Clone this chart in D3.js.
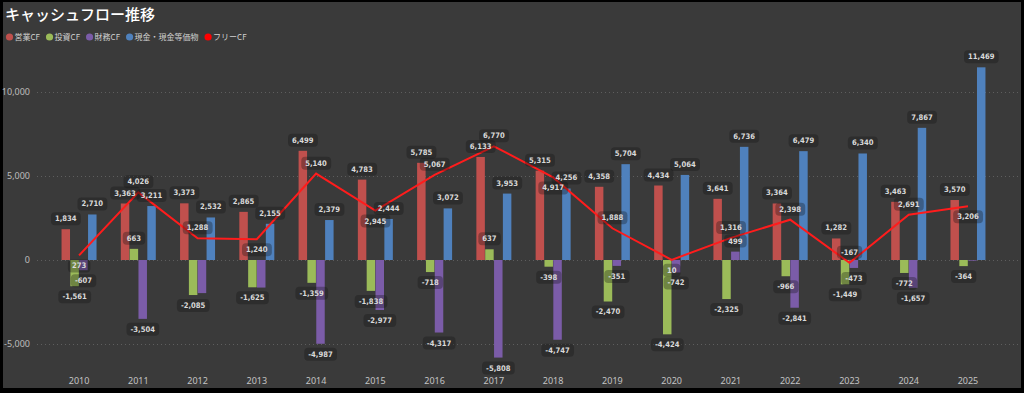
<!DOCTYPE html>
<html>
<head>
<meta charset="utf-8">
<script src="https://cdn.jsdelivr.net/npm/d3@7/dist/d3.min.js"></script>
<style>
  html, body { margin: 0; padding: 0; background: #000; }
  svg { display: block; }
</style>
</head>
<body>
<div id="chart"></div>
<script>
// Data (単位: 百万円)
var years = ["2010", "2011", "2012", "2013", "2014", "2015", "2016", "2017",
             "2018", "2019", "2020", "2021", "2022", "2023", "2024", "2025"];
var eigyoCF = [1834, 3363, 3373, 2865, 6499, 4783, 5785, 6133, 5315, 4358, 4434, 3641, 3364, 1282, 3463, 3570];
var toshiCF = [-1561, 663, -2085, -1625, -1359, -1838, -718, 637, -398, -2470, -4424, -2325, -966, -1449, -772, -364];
var zaimuCF = [-607, -3504, -1970, -1640, -4987, -2977, -4317, -5808, -4747, -351, -742, 499, -2841, -473, -1657, -40];
var genkin = [2710, 3211, 2532, 2155, 2379, 2444, 3072, 3953, 4256, 5704, 5064, 6736, 6479, 6340, 7867, 11469];
var freeCF = [273, 4026, 1288, 1240, 5140, 2945, 5067, 6770, 4917, 1888, 10, 1316, 2398, -167, 2691, 3206];
var yTicks = [-5000, 0, 5000, 10000];
var seriesNames = ["営業CF", "投資CF", "財務CF", "現金・現金等価物"];
var lineName = "フリーCF";

var chart = (function (d3) {
  "use strict";

  var W = 1024,
      H = 393,
      colors = ["#c0504d", "#9bbb59", "#7b5ca8", "#4f81bd"],
      lineColor = "#ff1c1c",
      fontCjk = "'Noto Sans CJK JP', 'Noto Sans', sans-serif",
      fontNum = "'DejaVu Sans Condensed', 'DejaVu Sans', sans-serif",
      // which side of the line point the FCF label sits on
      fcfSide = [1, -1, -1, 1, -1, 1, -1, -1, 1, -1, 1, -1, -1, -1, -1, 1],
      fmt = d3.formatLocale({ decimal: ".", thousands: ",", grouping: [3], currency: ["", ""], minus: "-" }).format(",");

  var private_methods = {
    label: function (g, x, y, txt) {
      var grp = g.append("g"),
          t = null,
          bb = null;
      t = grp.append("text")
        .attr("x", x).attr("y", y)
        .attr("text-anchor", "middle")
        .attr("dominant-baseline", "central")
        .attr("font-family", fontNum)
        .attr("font-weight", "bold")
        .attr("font-size", 7.6)
        .attr("fill", "#dadada")
        .text(txt);
      bb = t.node().getBBox();
      grp.insert("rect", "text")
        .attr("x", bb.x - 4).attr("y", y - 6.5)
        .attr("width", bb.width + 8).attr("height", 13)
        .attr("rx", 4)
        .attr("fill", "rgba(20,20,20,0.32)");
      return { g: grp, x0: bb.x, x1: bb.x + bb.width, y0: y - 5, y1: y + 5 };
    },
    hits: function (a, b) {
      return a.x0 < b.x1 && b.x0 < a.x1 && a.y0 < b.y1 && b.y0 < a.y1;
    }
  };

  return {
    draw: function (sDiv) {
      var svg, x, xs, y, g, series, placed = [], lineData, i;

      svg = d3.select(sDiv).append("svg")
        .attr("width", W).attr("height", H);

      svg.append("rect").attr("width", W).attr("height", H).attr("fill", "#000");
      svg.append("rect")
        .attr("x", 3).attr("y", 2)
        .attr("width", W - 6).attr("height", H - 7)
        .attr("fill", "#3a3a3a");

      // Title + legend
      svg.append("text")
        .attr("x", 5).attr("y", 20)
        .attr("font-family", fontCjk)
        .attr("font-size", 15)
        .attr("font-weight", 500)
        .attr("fill", "#ffffff")
        .text("キャッシュフロー推移");

      var lx = 6,
          legendItems = seriesNames.concat([lineName]),
          legendColors = colors.concat(["#ff0000"]);
      legendItems.forEach(function (name, k) {
        var t;
        svg.append("circle")
          .attr("cx", lx + 3.5).attr("cy", 37)
          .attr("r", 3.6)
          .attr("fill", legendColors[k]);
        t = svg.append("text")
          .attr("x", lx + 8.5).attr("y", 40)
          .attr("font-family", fontCjk)
          .attr("font-size", 8)
          .attr("fill", "#d0d0d0")
          .text(name);
        lx += 8.5 + t.node().getComputedTextLength() + 6;
      });

      // Scales
      x = d3.scaleBand().domain(years).range([49.4, 997.6]).padding(0);
      xs = d3.scaleBand().domain(d3.range(4)).range([0, 35]).paddingInner(0.04);
      y = d3.scaleLinear().domain([-6000, 12000]).range([360.8, 58.4]);

      // Grid + y axis
      g = svg.append("g");
      g.selectAll("line.grid")
        .data(yTicks)
        .enter().append("line")
        .attr("x1", 37).attr("x2", 1018)
        .attr("y1", function (d) { return Math.round(y(d)) + 0.5; })
        .attr("y2", function (d) { return Math.round(y(d)) + 0.5; })
        .attr("stroke", "#5e5e5e")
        .attr("stroke-width", 1)
        .attr("stroke-dasharray", "1,3");
      g.selectAll("text.ytick")
        .data(yTicks)
        .enter().append("text")
        .attr("x", 30)
        .attr("y", function (d) { return y(d) + 3; })
        .attr("text-anchor", "end")
        .attr("font-family", "'Noto Sans', sans-serif")
        .attr("font-size", 9)
        .attr("fill", "#bdbdbd")
        .text(function (d) { return fmt(d); });

      // x axis labels
      g.selectAll("text.xtick")
        .data(years)
        .enter().append("text")
        .attr("x", function (d) { return x(d) + x.bandwidth() / 2; })
        .attr("y", 384)
        .attr("text-anchor", "middle")
        .attr("font-family", "'Noto Sans', sans-serif")
        .attr("font-size", 9)
        .attr("fill", "#c4c4c4")
        .text(function (d) { return d; });

      // Bars
      series = [eigyoCF, toshiCF, zaimuCF, genkin];
      var barX = function (yr, s) {
        return x(yr) + x.bandwidth() / 2 - 17.5 + xs(s);
      };
      series.forEach(function (vals, s) {
        svg.append("g").selectAll("rect")
          .data(vals)
          .enter().append("rect")
          .attr("x", function (d, k) { return barX(years[k], s); })
          .attr("y", function (d) { return y(Math.max(0, d)); })
          .attr("width", xs.bandwidth())
          .attr("height", function (d) { return Math.abs(y(d) - y(0)); })
          .attr("fill", colors[s]);
      });

      // FCF line
      lineData = freeCF.map(function (d, k) { return [years[k], d]; });
      svg.append("path")
        .datum(lineData)
        .attr("fill", "none")
        .attr("stroke", lineColor)
        .attr("stroke-width", 2)
        .attr("d", d3.line()
          .x(function (d) { return x(d[0]) + x.bandwidth() / 2; })
          .y(function (d) { return y(d[1]); }));

      // Bar labels, order: 営業, 現金, 投資, 財務 (later ones drop out on overlap)
      var lg = svg.append("g");
      [0, 3, 1, 2].forEach(function (s) {
        series[s].forEach(function (v, k) {
          var cx = barX(years[k], s) + xs.bandwidth() / 2,
              cy = v >= 0 ? y(v) - 10.5 : y(v) + 10.5,
              lab = private_methods.label(lg, cx, cy, fmt(v)),
              clash = placed.some(function (p) { return private_methods.hits(p, lab); });
          if (clash) {
            lab.g.remove();
          } else {
            placed.push(lab);
          }
        });
      });

      // FCF labels on top
      for (i = 0; i < freeCF.length; i++) {
        private_methods.label(lg,
          x(years[i]) + x.bandwidth() / 2,
          y(freeCF[i]) + fcfSide[i] * 10.5,
          fmt(freeCF[i]));
      }
    }
  };
}(d3));

chart.draw("#chart");
</script>
</body>
</html>
